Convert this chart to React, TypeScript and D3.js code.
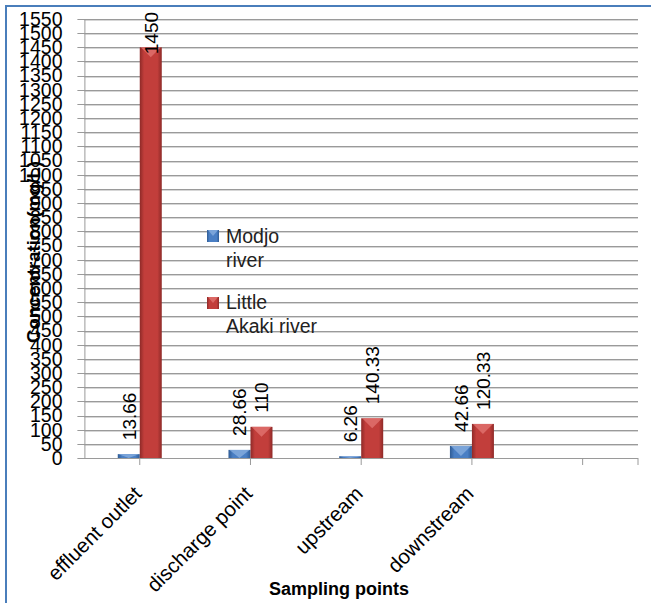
import React from "react";
import * as d3 from "d3";

const categories = ["effluent outlet", "discharge point", "upstream", "downstream", ""];
const seriesNames = ["Modjo river", "Little Akaki river"];
const modjo = [13.66, 28.66, 6.26, 42.66];
const littleAkaki = [1450, 110, 140.33, 120.33];
const modjoLabels = ["13.66", "28.66", "6.26", "42.66"];
const akakiLabels = ["1450", "110", "140.33", "120.33"];
const yTicks = d3.range(0, 1551, 50);

const W = 651, H = 603;
const PL = 84.4, PR = 638, PT = 19, PB = 458;

export default function App() {
  const x = d3.scaleBand<string>().domain(categories.map((c, i) => String(i))).range([PL, PR]).padding(0);
  const y = d3.scaleLinear().domain([0, 1550]).range([PB, PT]);
  const bw = 22;
  const fontN = "'Liberation Sans', Arial, sans-serif";
  const lblSize = 19;
  const charW = (s: string) => s.split("").reduce((a, c) => a + (c === "." ? 0.278 : 0.556), 0) * lblSize;

  const series = [
    { vals: modjo, labels: modjoLabels, grad: "gBlue", top: "#8fb4e3" },
    { vals: littleAkaki, labels: akakiLabels, grad: "gRed", top: "#e57b78" },
  ];

  return (
    <svg width={W} height={H} style={{ position: "absolute", left: 0, top: 0, background: "#fff" }}>
      <defs>
        <linearGradient id="gBlue" x1="0" x2="1" y1="0" y2="0">
          <stop offset="0" stopColor="#2f5c95" />
          <stop offset="0.2" stopColor="#4a7fc4" />
          <stop offset="0.8" stopColor="#4a7fc4" />
          <stop offset="1" stopColor="#2f5c95" />
        </linearGradient>
        <linearGradient id="gRed" x1="0" x2="1" y1="0" y2="0">
          <stop offset="0" stopColor="#8e2a28" />
          <stop offset="0.2" stopColor="#c23e3b" />
          <stop offset="0.8" stopColor="#c23e3b" />
          <stop offset="1" stopColor="#8e2a28" />
        </linearGradient>
      </defs>
      <rect x={0} y={0} width={W} height={H} fill="#fff" />
      <rect x={6} y={6} width={700} height={700} fill="#fff" stroke="#4a7ebb" strokeWidth={2} />

      {/* gridlines */}
      {yTicks.map((t) => (
        <g key={t}>
          <line x1={PL - 7} x2={PR} y1={Math.round(y(t)) + 0.5} y2={Math.round(y(t)) + 0.5} stroke="#9a9a9a" />
          {t > 0 && (
            <line x1={PL} x2={PR} y1={Math.round(y(t)) + 1.5} y2={Math.round(y(t)) + 1.5} stroke="#d6d6d6" />
          )}
        </g>
      ))}
      <line x1={PL + 0.5} x2={PL + 0.5} y1={PT} y2={PB} stroke="#9a9a9a" />
      {/* x ticks */}
      {categories.map((c, i) => (
        <line key={"t" + i} x1={x(String(i))! + x.bandwidth() / 2} x2={x(String(i))! + x.bandwidth() / 2}
          y1={PB} y2={PB + 7} stroke="#9a9a9a" />
      ))}
      <line x1={PR} x2={PR} y1={PB} y2={PB + 7} stroke="#9a9a9a" />

      {/* y tick labels */}
      {yTicks.map((t) => (
        <text key={"yl" + t} x={62.5} y={y(t)} dy="0.35em" textAnchor="end" fontFamily={fontN} fontSize={19.5} fill="#000">
          {t}
        </text>
      ))}

      {/* bars */}
      {series.map((s, si) =>
        s.vals.map((v, i) => {
          const cx = x(String(i))! + x.bandwidth() / 2;
          const x0 = si === 0 ? cx - bw : cx;
          const yt = y(v);
          const h = PB - yt;
          const tri = Math.min(h, 10);
          return (
            <g key={`b${si}-${i}`}>
              <rect x={x0} y={yt} width={bw} height={h} fill={`url(#${s.grad})`} />
              <polygon points={`${x0 + 1},${yt} ${x0 + bw - 1},${yt} ${x0 + bw / 2},${yt + tri}`} fill={s.top} opacity={0.7} />
            </g>
          );
        })
      )}

      {/* data labels */}
      {series.map((s, si) =>
        s.vals.map((v, i) => {
          const cx = x(String(i))! + x.bandwidth() / 2;
          const bc = si === 0 ? cx - bw / 2 : cx + bw / 2;
          const len = charW(s.labels[i]);
          const start = Math.max(y(v) - 14, 12 + len);
          return (
            <text key={`l${si}-${i}`} transform={`translate(${bc + 7},${start}) rotate(-90)`}
              fontFamily={fontN} fontSize={lblSize} fill="#000">
              {s.labels[i]}
            </text>
          );
        })
      )}

      {/* x labels */}
      {categories.map((c, i) => (
        <text key={"xl" + i} transform={`translate(${x(String(i))! + x.bandwidth() / 2 + 3},${PB + 37}) rotate(-45)`}
          textAnchor="end" fontFamily={fontN} fontSize={20.5} fill="#000">
          {c}
        </text>
      ))}

      {/* axis titles */}
      <text x={339} y={595} textAnchor="middle" fontFamily={fontN} fontWeight="bold" fontSize={18} fill="#000">
        Sampling points
      </text>
      <text transform={`translate(40,252) rotate(-90)`} textAnchor="middle" fontFamily={fontN} fontWeight="bold" fontSize={18.5} fill="#000">
        Concentration(mg/L)
      </text>

      {/* legend */}
      <g fontFamily={fontN} fontSize={19.5} fill="#222">
        <rect x={207} y={230} width={12} height={12} fill="url(#gBlue)" />
        <polygon points="208,230 218,230 213,236" fill="#8fb4e3" opacity={0.7} />
        <text x={226} y={243}>Modjo</text>
        <text x={226} y={267}>river</text>
        <rect x={207} y={297} width={12} height={12} fill="url(#gRed)" />
        <polygon points="208,297 218,297 213,303" fill="#e57b78" opacity={0.7} />
        <text x={226} y={309}>Little</text>
        <text x={226} y={333}>Akaki river</text>
      </g>
    </svg>
  );
}
